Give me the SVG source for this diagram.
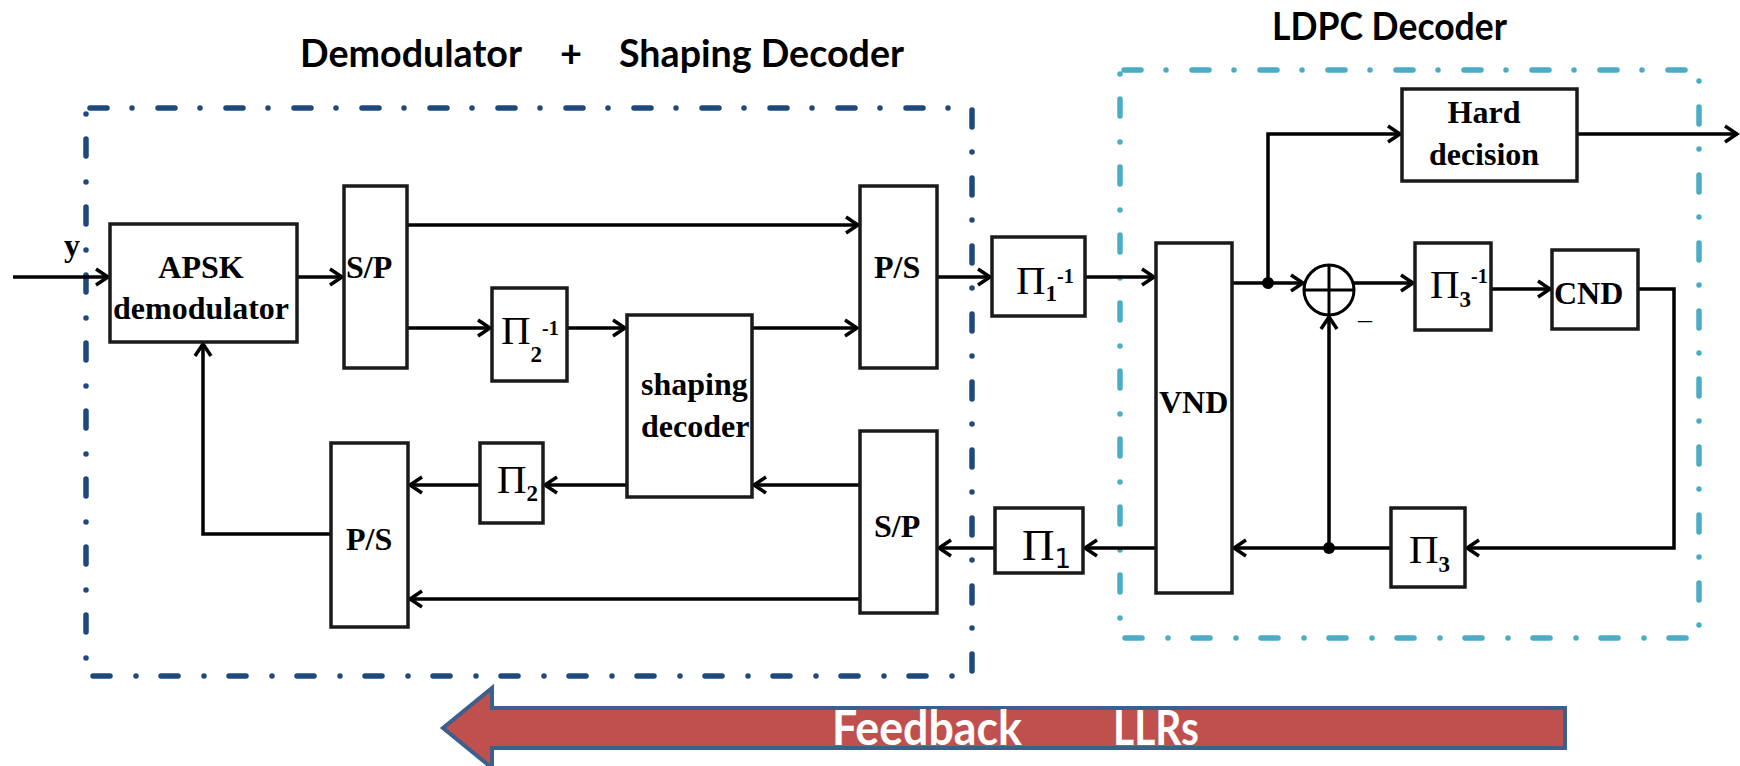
<svg xmlns="http://www.w3.org/2000/svg" width="1740" height="766" viewBox="0 0 1740 766">
<style>
.bg{fill:#fff}
.box{fill:#fff;stroke:#1a1a1a;stroke-width:3.5}
.grp{fill:none;stroke-width:5.5;stroke-linecap:round;stroke-dasharray:17 25 0 26}
.dk{stroke:#1F497D}
.lt{stroke:#4BACC6}
.ln{fill:none;stroke:#000;stroke-width:3.5}
.arr{marker-end:url(#ah)}
.tb{font-family:"Liberation Serif","Times New Roman",serif;font-weight:bold;font-size:32px;fill:#000}
.pl{font-family:"Liberation Serif","Times New Roman",serif;fill:#000}
.pi{font-size:41px;font-weight:normal}
.sub{font-weight:bold;font-size:23px}
.sup{font-weight:bold;font-size:20px}
.title{font-family:Lato,"Open Sans",sans-serif;font-weight:bold;font-size:38px;fill:#000}
.fb{font-family:Lato,"Open Sans",sans-serif;font-weight:bold;font-size:47px;fill:#fff}
</style>
<defs>
<marker id="ah" viewBox="-15 -11 20 22" markerWidth="20" markerHeight="22" refX="0" refY="0" orient="auto" markerUnits="userSpaceOnUse">
<path d="M-12,-8 L0,0 L-12,8" fill="none" stroke="#000" stroke-width="3.5"/>
</marker>
</defs>
<rect class="bg" x="0" y="0" width="1740" height="766"/>

<g id="group-frames">
<path class="grp dk" d="M90,108 H972 V676 H86 V108"/>
<path class="grp lt" d="M1124,70 H1699 V638 H1120 V70"/>
</g>

<g id="titles">
<text class="title" x="300" y="67" textLength="222" lengthAdjust="spacingAndGlyphs">Demodulator</text>
<text class="title" x="560" y="67">+</text>
<text class="title" x="619" y="67" textLength="285" lengthAdjust="spacingAndGlyphs">Shaping Decoder</text>
<text class="title" x="1272" y="40" textLength="235" lengthAdjust="spacingAndGlyphs">LDPC Decoder</text>
</g>

<g id="feedback-arrow">
<path d="M1565,708 H492 V688 L443,728 L492,768 V748 H1565 Z" fill="#C0504D" stroke="#3C5F8C" stroke-width="4"/>
<text class="fb" x="832" y="745" textLength="190" lengthAdjust="spacingAndGlyphs">Feedback</text>
<text class="fb" x="1113" y="745" textLength="86" lengthAdjust="spacingAndGlyphs">LLRs</text>
</g>

<g id="connectors">
<path class="ln arr" d="M13,277 H108"/>
<path class="ln arr" d="M297,277 H342"/>
<path class="ln arr" d="M407,225 H858"/>
<path class="ln arr" d="M407,328 H490"/>
<path class="ln arr" d="M567,328 H625"/>
<path class="ln arr" d="M752,328 H857"/>
<path class="ln arr" d="M937,277 H990"/>
<path class="ln arr" d="M1085,277 H1154"/>
<path class="ln arr" d="M1232,283 H1303"/>
<path class="ln arr" d="M1268,283 V134 H1400"/>
<path class="ln arr" d="M1577,134 H1737"/>
<path class="ln arr" d="M1353,283 H1413"/>
<path class="ln arr" d="M1491,289 H1550"/>
<path class="ln arr" d="M1638,289 H1674 V548 H1467"/>
<path class="ln arr" d="M1391,548 H1234"/>
<path class="ln arr" d="M1329,548 V317"/>
<path class="ln arr" d="M1156,548 H1085"/>
<path class="ln arr" d="M995,548 H939"/>
<path class="ln arr" d="M860,485 H754"/>
<path class="ln arr" d="M627,485 H545"/>
<path class="ln arr" d="M480,485 H410"/>
<path class="ln arr" d="M860,599 H410"/>
<path class="ln arr" d="M331,534 H203 V344"/>
<circle cx="1268" cy="283" r="6" fill="#000"/>
<circle cx="1329" cy="548" r="6" fill="#000"/>
</g>

<text class="tb" x="64" y="256">y</text>

<g id="apsk">
<rect class="box" x="110" y="224" width="187" height="118"/>
<text class="tb" x="201" y="278" text-anchor="middle">APSK</text>
<text class="tb" x="201" y="319" text-anchor="middle">demodulator</text>
</g>
<g id="sp-top">
<rect class="box" x="344" y="186" width="63" height="182"/>
<text class="tb" x="346" y="278">S/P</text>
</g>
<g id="pi2-inv">
<rect class="box" x="492" y="288" width="75" height="93"/>
<text class="pl" x="501" y="344"><tspan class="pi">Π</tspan><tspan class="sub" dy="18">2</tspan><tspan class="sup" dy="-27">-1</tspan></text>
</g>
<g id="shaping-decoder">
<rect class="box" x="627" y="315" width="125" height="182"/>
<text class="tb" x="641" y="395">shaping</text>
<text class="tb" x="641" y="437">decoder</text>
</g>
<g id="ps-top">
<rect class="box" x="860" y="186" width="77" height="182"/>
<text class="tb" x="874" y="278">P/S</text>
</g>
<g id="pi1-inv">
<rect class="box" x="992" y="237" width="93" height="79"/>
<text class="pl" x="1016" y="294"><tspan class="pi">Π</tspan><tspan class="sub" dy="7">1</tspan><tspan class="sup" dy="-18">-1</tspan></text>
</g>
<g id="vnd">
<rect class="box" x="1156" y="243" width="76" height="350"/>
<text class="tb" x="1159" y="413">VND</text>
</g>
<g id="hard-decision">
<rect class="box" x="1402" y="89" width="175" height="92"/>
<text class="tb" x="1484" y="123" text-anchor="middle">Hard</text>
<text class="tb" x="1484" y="165" text-anchor="middle">decision</text>
</g>
<g id="sum">
<circle cx="1329" cy="290" r="25" fill="#fff" stroke="#000" stroke-width="3"/>
<path d="M1304,290 H1354 M1329,265 V315" stroke="#000" stroke-width="3"/>
<text x="1365" y="328" text-anchor="middle" style="font-family:'Liberation Serif',serif;font-size:28px">–</text>
</g>
<g id="pi3-inv">
<rect class="box" x="1415" y="243" width="76" height="87"/>
<text class="pl" x="1430" y="298"><tspan class="pi">Π</tspan><tspan class="sub" dy="9">3</tspan><tspan class="sup" dy="-24">-1</tspan></text>
</g>
<g id="cnd">
<rect class="box" x="1552" y="250" width="86" height="79"/>
<text class="tb" x="1554" y="304">CND</text>
</g>
<g id="pi3">
<rect class="box" x="1391" y="508" width="74" height="79"/>
<text class="pl" x="1409" y="563"><tspan class="pi">Π</tspan><tspan class="sub" dy="9">3</tspan></text>
</g>
<g id="pi1">
<rect class="box" x="995" y="508" width="88" height="65"/>
<text class="pl" x="1022" y="560"><tspan class="pi" style="font-size:45px">Π</tspan><tspan dy="8" style="font-family:'DejaVu Sans',sans-serif;font-size:26px">1</tspan></text>
</g>
<g id="sp-bottom">
<rect class="box" x="860" y="431" width="77" height="182"/>
<text class="tb" x="874" y="537">S/P</text>
</g>
<g id="pi2">
<rect class="box" x="480" y="443" width="63" height="80"/>
<text class="pl" x="497" y="493"><tspan class="pi">Π</tspan><tspan class="sub" dy="8">2</tspan></text>
</g>
<g id="ps-bottom">
<rect class="box" x="331" y="443" width="77" height="184"/>
<text class="tb" x="346" y="550">P/S</text>
</g>
</svg>
